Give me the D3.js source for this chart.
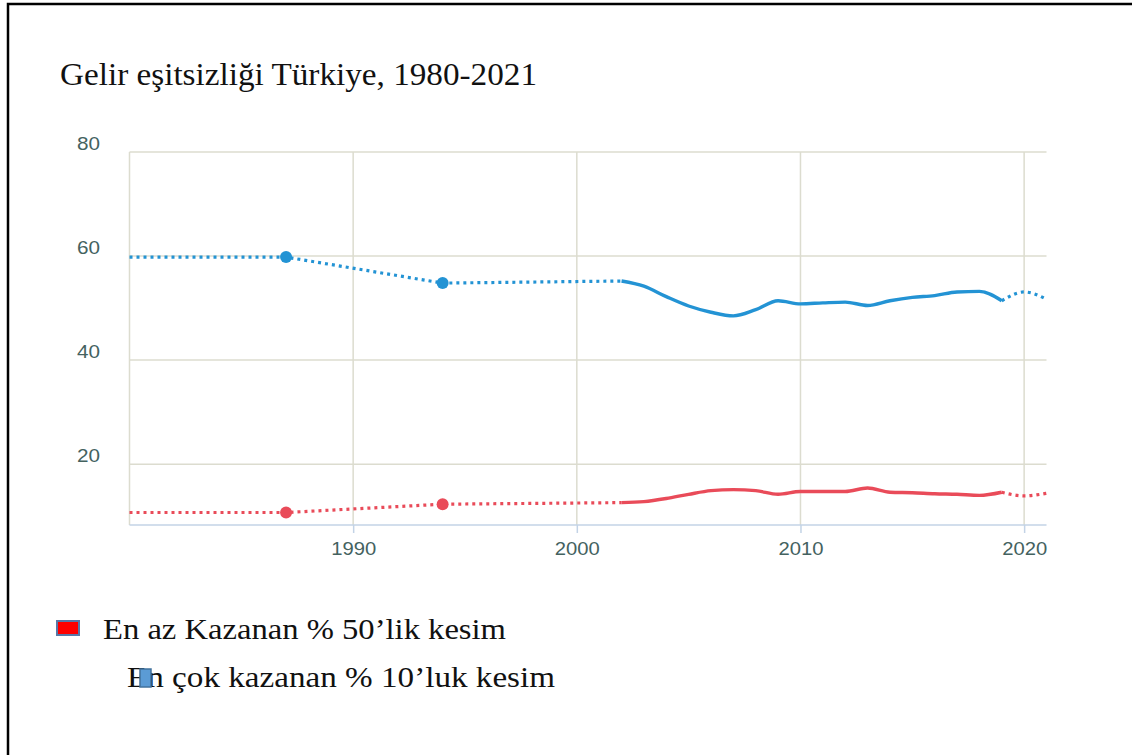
<!DOCTYPE html>
<html lang="tr">
<head>
<meta charset="utf-8">
<script src="https://cdn.jsdelivr.net/npm/d3@7"></script>
<style>
  html, body { margin: 0; padding: 0; background: #fff; }
  svg { display: block; }
</style>
</head>
<body>
<svg id="chart" width="1132" height="755"></svg>
<script>
// Gelir eşitsizliği, Türkiye 1980-2021: gelir payları (%)
const years = [1980, 1987, 1994, 2002, 2003, 2004, 2005, 2006, 2007, 2008, 2009, 2010,
               2011, 2012, 2013, 2014, 2015, 2016, 2017, 2018, 2019, 2020, 2021];
const top10 = [59.8, 59.8, 54.8, 55.2, 54.2, 52.2, 50.4, 49.2, 48.5, 49.7, 51.4, 50.8,
               51.0, 51.15, 50.5, 51.4, 52.05, 52.4, 53.1, 53.2, 51.4, 53.1, 51.7];
const bottom50 = [10.7, 10.7, 12.3, 12.6, 12.8, 13.4, 14.2, 14.9, 15.1, 14.9, 14.2, 14.75,
                  14.75, 14.75, 15.4, 14.6, 14.5, 14.3, 14.2, 14.0, 14.6, 13.9, 14.4];
const markerYears = [1987, 1994];          // gözlenen noktalar
const solidFrom = 2002, solidTo = 2019;    // sürekli çizgi aralığı
const yTicks = [20, 40, 60, 80];
const xTicks = [1990, 2000, 2010, 2020];
const titleText = "Gelir eşitsizliği Türkiye, 1980-2021";
const legendLabels = ["En az Kazanan % 50’lik kesim", "En çok kazanan % 10’luk kesim"];

const svg = d3.select("#chart");
const W = 1132, H = 755;
svg.append("rect").attr("width", W).attr("height", H).attr("fill", "#fff");

// page frame (top and left edges)
svg.append("path")
  .attr("d", `M8,${H} L8,4 L${W},4`)
  .attr("fill", "none").attr("stroke", "#000").attr("stroke-width", 2.5);

// title
svg.append("text")
  .attr("x", 60).attr("y", 85)
  .attr("font-family", "Liberation Serif, serif")
  .attr("font-size", 31)
  .attr("textLength", 477).attr("lengthAdjust", "spacingAndGlyphs")
  .attr("fill", "#111")
  .text(titleText);

const x = d3.scaleLinear().domain([1980, 2021]).range([129.5, 1046.5]);
const y = d3.scaleLinear().domain([8.3, 80]).range([525, 152]);

const gridColor = "#dcdccf";
const axisColor = "#c3d3e6";
const labelColor = "#44625f";
const tickFont = "Liberation Sans, Arial, sans-serif";

// horizontal grid
svg.append("g").selectAll("line").data(yTicks).join("line")
  .attr("x1", x(1980)).attr("x2", x(2021))
  .attr("y1", d => y(d)).attr("y2", d => y(d))
  .attr("stroke", gridColor).attr("stroke-width", 1.5);

// vertical grid incl. left edge
svg.append("g").selectAll("line").data([1980, ...xTicks]).join("line")
  .attr("x1", d => x(d)).attr("x2", d => x(d))
  .attr("y1", y(80)).attr("y2", y(8.3))
  .attr("stroke", gridColor).attr("stroke-width", 1.5);

// y tick labels, above each grid line
svg.append("g").selectAll("text").data(yTicks).join("text")
  .attr("x", 77).attr("y", d => y(d) - 2.5)
  .attr("font-family", tickFont)
  .attr("font-size", 18.5)
  .attr("textLength", 23).attr("lengthAdjust", "spacingAndGlyphs")
  .attr("fill", labelColor)
  .text(d => d);

// x axis
const xAxis = d3.axisBottom(x).tickValues(xTicks).tickFormat(d3.format("d"))
  .tickSize(8).tickPadding(9);
const gx = svg.append("g").attr("transform", `translate(0,${y(8.3)})`).call(xAxis);
gx.select(".domain").attr("stroke", axisColor).attr("stroke-width", 1.5).attr("d", `M${x(1980)},0H${x(2021)}`);
gx.selectAll(".tick line").attr("stroke", axisColor).attr("stroke-width", 1.5);
gx.selectAll(".tick text")
  .attr("font-family", tickFont)
  .attr("font-size", 18.5)
  .attr("textLength", 45).attr("lengthAdjust", "spacingAndGlyphs")
  .attr("fill", labelColor);

const series = [
  { values: top10, color: "#2393d4" },
  { values: bottom50, color: "#e94b59" }
];

series.forEach(s => {
  const pts = years.map((yr, i) => ({ yr, v: s.values[i] }));
  const early = pts.filter(p => p.yr <= solidFrom);
  const mid = pts.filter(p => p.yr >= solidFrom && p.yr <= solidTo);
  const late = pts.filter(p => p.yr >= solidTo);

  const lineLin = d3.line().x(p => x(p.yr)).y(p => y(p.v)).curve(d3.curveLinear);
  const lineSmooth = d3.line().x(p => x(p.yr)).y(p => y(p.v)).curve(d3.curveMonotoneX);

  svg.append("path").attr("d", lineLin(early))
    .attr("fill", "none").attr("stroke", s.color).attr("stroke-width", 3.2)
    .attr("stroke-dasharray", "3,4");
  svg.append("path").attr("d", lineSmooth(mid))
    .attr("fill", "none").attr("stroke", s.color).attr("stroke-width", 3.4)
    .attr("stroke-linejoin", "round");
  svg.append("path").attr("d", lineSmooth(late))
    .attr("fill", "none").attr("stroke", s.color).attr("stroke-width", 3.2)
    .attr("stroke-dasharray", "3,4");

  svg.append("g").selectAll("circle")
    .data(pts.filter(p => markerYears.includes(p.yr))).join("circle")
    .attr("cx", p => x(p.yr)).attr("cy", p => y(p.v)).attr("r", 6)
    .attr("fill", s.color);
});

// legend
const lg = svg.append("g")
  .attr("font-family", "Liberation Serif, serif")
  .attr("font-size", 29)
  .attr("fill", "#111");
lg.append("rect").attr("x", 57).attr("y", 621).attr("width", 22).attr("height", 14)
  .attr("fill", "#ff0000").attr("stroke", "#5878a8").attr("stroke-width", 2);
lg.append("text").attr("x", 103).attr("y", 639)
  .attr("textLength", 403).attr("lengthAdjust", "spacingAndGlyphs")
  .text(legendLabels[0]);
lg.append("text").attr("x", 127).attr("y", 687)
  .attr("textLength", 428).attr("lengthAdjust", "spacingAndGlyphs")
  .text(legendLabels[1]);
lg.append("rect").attr("x", 140).attr("y", 669).attr("width", 11).attr("height", 18)
  .attr("fill", "#5b9bd5").attr("stroke", "#41719c").attr("stroke-width", 1.5);
</script>
</body>
</html>
